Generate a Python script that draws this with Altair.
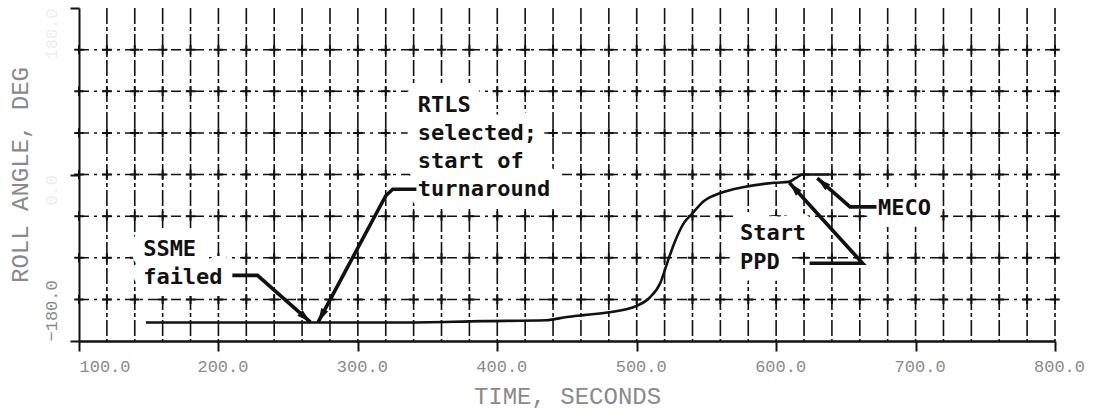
import math
import altair as alt
import pandas as pd

# Orbiter roll angle during an RTLS abort
time_s = [148, 250, 330, 390, 435, 450, 462, 480, 500, 509, 517, 522, 527, 534, 540, 548,
          560, 577, 599, 609, 614, 619, 638]
roll_deg = [-160, -160, -160, -158.5, -157.5, -154, -152, -149, -142, -133.5, -117, -95, -74,
            -52, -42, -29, -20, -13.5, -9, -8, -4, 0, 0]

# Axis layout
T_MIN, T_MAX = 100, 800
R_MIN, R_MAX = -180, 180
x_ticks = [100, 200, 300, 400, 500, 600, 700, 800]
y_ticks = [-180, 0, 180]
grid_t = list(range(120, 801, 20))
grid_roll = [-135, -90, -45, 0, 45, 90, 135]

# Event callouts
note_text = ["SSME", "failed", "RTLS", "selected;", "start of", "turnaround", "Start", "PPD", "MECO"]
note_t = [146, 146, 343, 343, 343, 343, 574, 574, 673]
note_roll = [-80, -111, 75, 45, 15, -16, -63, -95, -36]

arrow_ssme_t = [210, 228, 266]
arrow_ssme_roll = [-109, -109, -159.5]
arrow_rtls_t = [342, 325, 320, 271.5]
arrow_rtls_roll = [-16, -16, -23, -159.5]
arrow_ppd_t = [624, 662, 609.5]
arrow_ppd_roll = [-96, -96, -9]
arrow_meco_t = [672, 653, 629.5]
arrow_meco_roll = [-35, -35, -4]

PLOT_W, PLOT_H = 976, 333
INK = "#111111"
FAINT = "#8a8a8a"

curve = pd.DataFrame({"t": time_s, "r": roll_deg})
vgrid = pd.DataFrame({"t": grid_t})
hgrid = pd.DataFrame({"r": grid_roll})
crosses = pd.DataFrame([{"t": t, "r": r} for t in [100] + grid_t for r in grid_roll])
notes = pd.DataFrame({"t": note_t, "r": note_roll, "text": note_text})

arrows = [
    ("ssme", arrow_ssme_t, arrow_ssme_roll),
    ("rtls", arrow_rtls_t, arrow_rtls_roll),
    ("ppd", arrow_ppd_t, arrow_ppd_roll),
    ("meco", arrow_meco_t, arrow_meco_roll),
]
arrow_rows, head_rows = [], []
for name, ts, rs in arrows:
    for i, (t, r) in enumerate(zip(ts, rs)):
        arrow_rows.append({"id": name, "i": i, "t": t, "r": r})
    dx = (ts[-1] - ts[-2]) * PLOT_W / (T_MAX - T_MIN)
    dy_up = (rs[-1] - rs[-2]) * PLOT_H / (R_MAX - R_MIN)
    head_rows.append({"t": ts[-1], "r": rs[-1],
                      "ang": math.degrees(math.atan2(dx, dy_up)) % 360})
arrow_df = pd.DataFrame(arrow_rows)
head_df = pd.DataFrame(head_rows)

x_axis = alt.Axis(
    values=x_ticks, labelExpr="format(datum.value, '.1f')", title="TIME, SECONDS",
    grid=False, domainColor=INK, domainWidth=2.5, tickColor=INK, tickWidth=2, tickSize=10,
    labelFont="Liberation Mono", labelFontSize=17, labelColor=FAINT, labelPadding=7,
    labelAlign={"condition": {"test": "datum.value == 100", "value": "left"}, "value": "center"},
    labelOffset={"condition": {"test": "datum.value == 100", "value": 0}, "value": 4},
    titleFont="Liberation Mono", titleFontSize=24, titleFontWeight="normal",
    titleColor=FAINT, titlePadding=10,
)
y_axis = alt.Axis(
    values=y_ticks, labelExpr="format(datum.value, '.1f')", title="ROLL ANGLE, DEG",
    grid=False, domainColor=INK, domainWidth=2, tickColor=INK, tickWidth=2, tickSize=9,
    labelFont="Liberation Mono", labelFontSize=17, labelAngle=270, labelPadding=10,
    labelBaseline="bottom",
    labelColor={"condition": {"test": "datum.value == -180", "value": FAINT}, "value": "#ededed"},
    labelAlign={"condition": {"test": "datum.value == -180", "value": "left"}, "value": "right"},
    titleFont="Liberation Mono", titleFontSize=24, titleFontWeight="normal",
    titleColor=FAINT, titlePadding=10,
)

X = alt.X("t:Q", scale=alt.Scale(domain=[T_MIN, T_MAX], nice=False, zero=False), axis=x_axis)
Y = alt.Y("r:Q", scale=alt.Scale(domain=[R_MIN, R_MAX], nice=False, zero=False), axis=y_axis)

vlines = alt.Chart(vgrid).mark_rule(color=INK, strokeWidth=1.6, strokeDash=[16, 3, 4, 3]).encode(x=X)
hlines = alt.Chart(hgrid).mark_rule(color=INK, strokeWidth=1.5, strokeDash=[10, 5, 3, 5]).encode(y=Y)
plus = alt.Chart(crosses).mark_point(
    shape="M-1,0L1,0M0,-1L0,1", size=90, strokeWidth=2, color=INK, filled=False, opacity=1
).encode(x=X, y=Y)

# White knock-out behind the callout text so the grid stops around it
label_bg = alt.Chart(notes).mark_text(
    align="left", baseline="middle", font="DejaVu Sans Mono", fontWeight="bold",
    fontSize=22, color="white", stroke="white", strokeWidth=24, strokeJoin="round"
).encode(x=X, y=Y, text="text:N")

line = alt.Chart(curve).mark_line(color=INK, strokeWidth=2.6, interpolate="monotone").encode(x=X, y=Y)

arrow_lines = alt.Chart(arrow_df).mark_line(color=INK, strokeWidth=3.6).encode(
    x=X, y=Y, detail="id:N", order="i:Q")
arrow_heads = alt.Chart(head_df).mark_point(
    shape="M0,0L0.55,2L-0.55,2Z", size=196, filled=True, color=INK, opacity=1
).encode(x=X, y=Y, angle=alt.Angle("ang:Q", scale=None))

labels = alt.Chart(notes).mark_text(
    align="left", baseline="middle", font="DejaVu Sans Mono", fontWeight="bold",
    fontSize=22, color=INK
).encode(x=X, y=Y, text="text:N")

chart = alt.layer(vlines, hlines, plus, label_bg, line, arrow_lines, arrow_heads, labels).properties(
    width=PLOT_W, height=PLOT_H,
    autosize=alt.AutoSizeParams(type="none"),
    padding={"left": 79, "top": 8, "right": 40, "bottom": 77},
    background="white",
).configure_view(stroke=None)

chart.save("out.html", embed_options={"renderer": "svg", "actions": False})
